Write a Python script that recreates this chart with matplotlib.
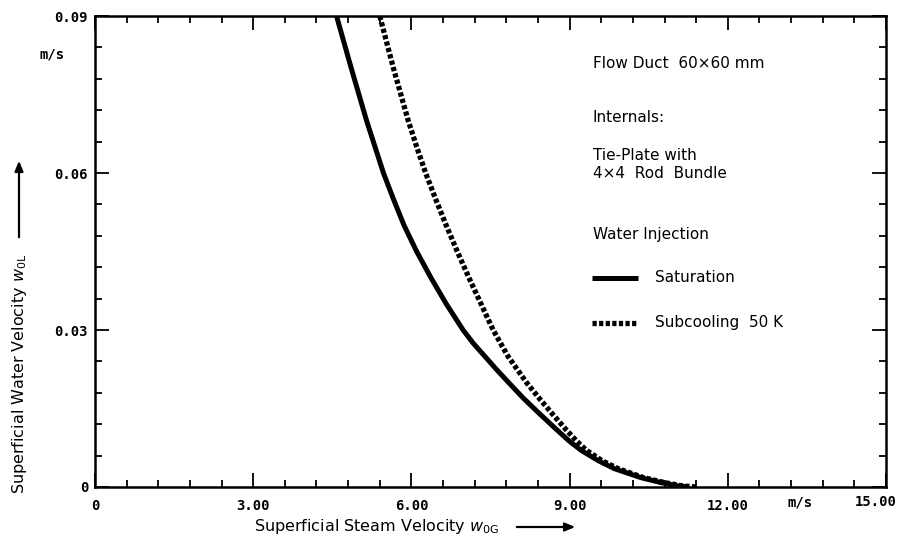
import matplotlib
matplotlib.use("Agg")
import matplotlib.pyplot as plt
from matplotlib.ticker import MultipleLocator, FixedLocator
from matplotlib.lines import Line2D
from matplotlib.patches import FancyArrowPatch

# Data (superficial steam velocity m/s, superficial water velocity m/s)
sat_x = [4.58, 4.86, 5.15, 5.47, 5.66, 5.86, 6.10, 6.37, 6.66, 6.98, 7.17, 7.39, 7.61, 7.84, 8.12, 8.43, 8.75,
         8.99, 9.22, 9.55, 9.85, 10.35, 10.75, 11.05, 11.25]
sat_y = [0.090, 0.080, 0.070, 0.060, 0.055, 0.050, 0.045, 0.040, 0.035, 0.030, 0.0275, 0.025, 0.0225, 0.020,
         0.017, 0.014, 0.011, 0.0088, 0.007, 0.005, 0.0035, 0.0018, 0.0008, 0.0002, 0.0]
sub_x = [5.40, 5.66, 5.94, 6.10, 6.27, 6.46, 6.66, 6.87, 7.09, 7.32, 7.55, 7.83, 8.18, 8.42, 8.67,
         8.93, 9.13, 9.32, 9.62, 9.92, 10.40, 10.82, 11.15, 11.40]
sub_y = [0.090, 0.080, 0.070, 0.065, 0.060, 0.055, 0.050, 0.045, 0.040, 0.035, 0.030, 0.025, 0.020, 0.017, 0.014,
         0.011, 0.0088, 0.007, 0.005, 0.0035, 0.0018, 0.0008, 0.0002, 0.0]
series_labels = ["Saturation", "Subcooling  50 K"]

x_major = [0, 3, 6, 9, 12, 15]
x_labels = ["0", "3.00", "6.00", "9.00", "12.00", ""]
y_major = [0, 0.03, 0.06, 0.09]
y_labels = ["0", "0.03", "0.06", "0.09"]

W, H = 898, 543
fig = plt.figure(figsize=(W / 100, H / 100), dpi=100)
L, R, T, B = 95, 886, 16, 487
ax = fig.add_axes([L / W, 1 - B / H, (R - L) / W, (B - T) / H])

sat_style = dict(color="black", lw=3.6, linestyle="-", solid_capstyle="butt", solid_joinstyle="round")
sub_style = dict(color="black", lw=3.8, linestyle=(0, (0.8, 0.45)))
ax.plot(sat_x, sat_y, label=series_labels[0], **sat_style)
ax.plot(sub_x, sub_y, label=series_labels[1], **sub_style)

ax.set_xlim(0, 15)
ax.set_ylim(0, 0.09)
ax.xaxis.set_major_locator(FixedLocator(x_major))
ax.xaxis.set_minor_locator(MultipleLocator(0.6))
ax.yaxis.set_major_locator(FixedLocator(y_major))
ax.yaxis.set_minor_locator(MultipleLocator(0.006))
mono = dict(family="DejaVu Sans Mono", size=10, weight="bold")
ax.set_xticklabels(x_labels, fontdict=mono)
ax.set_yticklabels(y_labels, fontdict=mono)
ax.tick_params(which="both", direction="in", top=True, right=True, width=1.3, color="black")
ax.tick_params(which="major", length=10)
ax.tick_params(which="minor", length=5)
ax.tick_params(axis="x", which="major", pad=9)
ax.tick_params(axis="y", which="major", pad=5)
for s in ax.spines.values():
    s.set_linewidth(1.8)

# extra axis texts
fig.text(897 / W, 1 - 502 / H, "15.00", ha="right", va="center", **mono)
fig.text(800 / W, 1 - 502 / H, "m/s", ha="center", va="center", **mono)
fig.text(52 / W, 1 - 55 / H, "m/s", ha="center", va="center", **mono)

lab = dict(family="DejaVu Sans", size=11.5)
tf = dict(family="DejaVu Sans", size=11)
# axis labels with arrows
fig.text(377 / W, 1 - 527 / H, r"Superficial Steam Velocity $w_{\mathrm{0G}}$", ha="center", va="center", **lab)
fig.add_artist(FancyArrowPatch((514 / W, 1 - 527 / H), (578 / W, 1 - 527 / H),
               transform=fig.transFigure, arrowstyle="-|>,head_length=6,head_width=2.5", lw=1.6, color="black"))
fig.text(20 / W, 1 - 374 / H, r"Superficial Water Velocity $w_{\mathrm{0L}}$", ha="center", va="center",
         rotation=90, **lab)
fig.add_artist(FancyArrowPatch((19 / W, 1 - 240 / H), (19 / W, 1 - 158 / H),
               transform=fig.transFigure, arrowstyle="-|>,head_length=6,head_width=2.5", lw=1.6, color="black"))


def ax_xy(px, py):
    return (px - L) / (R - L), (B - py) / (B - T)


for txt, py in [("Flow Duct  60\u00d760 mm", 63), ("Internals:", 117), ("Tie-Plate with", 155),
                ("4\u00d74  Rod  Bundle", 173), ("Water Injection", 235)]:
    x0, y0 = ax_xy(593, py)
    ax.text(x0, y0, txt, transform=ax.transAxes, ha="left", va="center", **tf)

# legend
for style, label, py in zip([sat_style, sub_style], series_labels, [278, 323]):
    x0, y0 = ax_xy(592, py)
    x1, _ = ax_xy(638, py)
    ax.add_line(Line2D([x0, x1], [y0, y0], transform=ax.transAxes, **style))
    xt, _ = ax_xy(655, py)
    ax.text(xt, y0, label, transform=ax.transAxes, ha="left", va="center", **tf)

fig.savefig("out.png", dpi=100)
